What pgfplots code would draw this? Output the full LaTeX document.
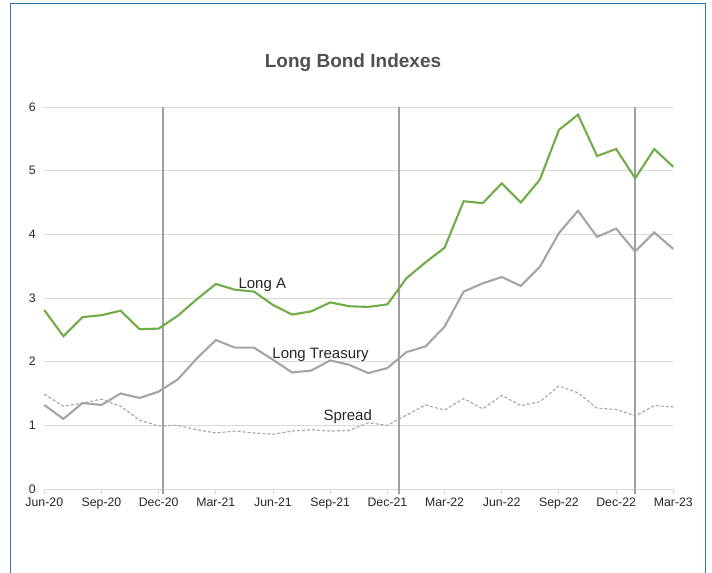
\documentclass[border=0pt]{standalone}
\usepackage{pgfplots}
\pgfplotsset{compat=1.18}
\usepackage{fontspec}
\setmainfont{Liberation Sans}
\definecolor{lgreen}{HTML}{70AD47}
\definecolor{lgray}{HTML}{A5A5A5}
\definecolor{gridgray}{HTML}{D9D9D9}
\definecolor{vgray}{HTML}{A0A0A0}
\definecolor{titlegray}{HTML}{505050}
\definecolor{labelgray}{HTML}{262626}
\definecolor{frameblue}{HTML}{2E75B6}
\begin{document}
\begin{tikzpicture}
\useasboundingbox (0bp,0bp) rectangle (712bp,573bp);
\fill[white] (0bp,0bp) rectangle (712bp,573bp);
\draw[frameblue, line width=1.3bp] (10.5bp,0bp) -- (10.5bp,569.5bp) -- (705.5bp,569.5bp) -- (705.5bp,0bp);
\node[anchor=base, font=\fontsize{19bp}{20bp}\selectfont\bfseries, text=titlegray, inner sep=0pt] at (353bp,505bp) {Long Bond Indexes};
\begin{axis}[
  at={(44.3bp,84bp)}, anchor=south west,
  scale only axis, width=629bp, height=382bp,
  xmin=0, xmax=33, ymin=0, ymax=6,
  axis x line*=bottom, axis y line*=left,
  x axis line style={draw=gridgray, line width=0.9bp},
  y axis line style={draw=none},
  ytick={0,1,2,3,4,5,6},
  xtick={0,3,6,9,12,15,18,21,24,27,30,33},
  xticklabels={Jun-20,Sep-20,Dec-20,Mar-21,Jun-21,Sep-21,Dec-21,Mar-22,Jun-22,Sep-22,Dec-22,Mar-23},
  ymajorgrids,
  grid style={draw=gridgray, line width=0.9bp},
  xtick style={draw=gridgray, line width=0.9bp},
  ytick style={draw=none},
  tick align=outside, major tick length=5bp,
  tick label style={font=\fontsize{12.3bp}{14bp}\selectfont, text=labelgray},
  /pgf/number format/assume math mode=true,
  clip=false,
]
\addplot[vgray, line width=1.4bp] coordinates {(6.22,-0.08) (6.22,6)};
\addplot[vgray, line width=1.4bp] coordinates {(18.6,-0.08) (18.6,6)};
\addplot[vgray, line width=1.4bp] coordinates {(31.0,-0.08) (31.0,6)};
% Spread
\addplot[lgray, line width=1.1bp, dash pattern=on 3bp off 2bp] coordinates {
(0,1.49) (1,1.30) (2,1.35) (3,1.41) (4,1.30) (5,1.08) (6,0.99) (7,1.00) (8,0.93) (9,0.88)
(10,0.91) (11,0.88) (12,0.86) (13,0.91) (14,0.93) (15,0.91) (16,0.92) (17,1.04) (18,1.00) (19,1.16)
(20,1.32) (21,1.24) (22,1.42) (23,1.26) (24,1.47) (25,1.31) (26,1.37) (27,1.62) (28,1.51) (29,1.27)
(30,1.25) (31,1.15) (32,1.31) (33,1.29)};
% Long Treasury
\addplot[lgray, line width=2.1bp] coordinates {
(0,1.32) (1,1.10) (2,1.35) (3,1.32) (4,1.50) (5,1.43) (6,1.53) (7,1.72) (8,2.05) (9,2.34)
(10,2.22) (11,2.22) (12,2.03) (13,1.83) (14,1.86) (15,2.02) (16,1.95) (17,1.82) (18,1.90) (19,2.15)
(20,2.24) (21,2.55) (22,3.10) (23,3.23) (24,3.33) (25,3.19) (26,3.49) (27,4.02) (28,4.37) (29,3.96)
(30,4.09) (31,3.73) (32,4.03) (33,3.77)};
% Long A
\addplot[lgreen, line width=2.1bp] coordinates {
(0,2.81) (1,2.40) (2,2.70) (3,2.73) (4,2.80) (5,2.51) (6,2.52) (7,2.72) (8,2.98) (9,3.22)
(10,3.13) (11,3.10) (12,2.89) (13,2.74) (14,2.79) (15,2.93) (16,2.87) (17,2.86) (18,2.90) (19,3.31)
(20,3.56) (21,3.79) (22,4.52) (23,4.49) (24,4.80) (25,4.50) (26,4.86) (27,5.64) (28,5.88) (29,5.23)
(30,5.34) (31,4.88) (32,5.34) (33,5.06)};
\node[anchor=base west, inner sep=0pt, font=\fontsize{15bp}{17bp}\selectfont, text=black!85] at (axis cs:10.18,3.15) {Long A};
\node[anchor=base west, inner sep=0pt, font=\fontsize{15bp}{17bp}\selectfont, text=black!85] at (axis cs:11.96,2.05) {Long Treasury};
\node[anchor=base west, inner sep=0pt, font=\fontsize{15bp}{17bp}\selectfont, text=black!85] at (axis cs:14.64,1.07) {Spread};
\end{axis}
\end{tikzpicture}
\end{document}
